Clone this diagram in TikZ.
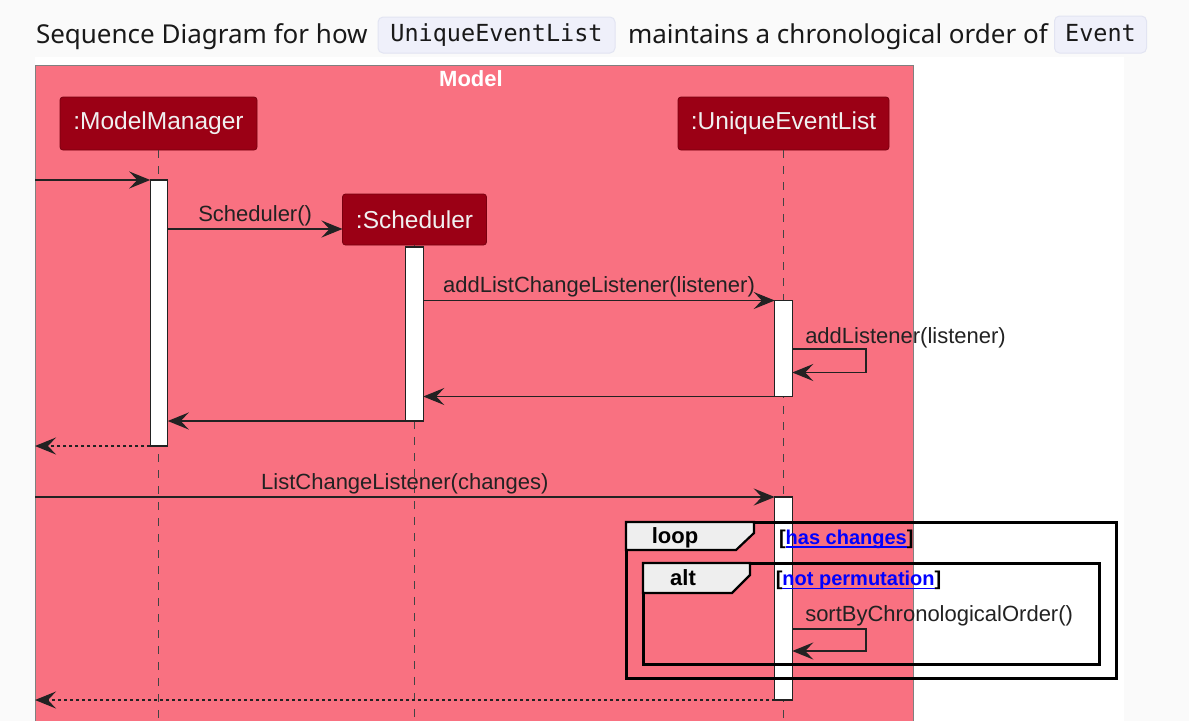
\documentclass[tikz,border=0pt]{standalone}
\usepackage{fontspec}
\setmainfont{Liberation Sans}
\newfontfamily\titlefont{Noto Sans}
\newfontfamily\codefont{DejaVu Sans Mono}
\usetikzlibrary{arrows.meta}
\definecolor{pinkbg}{RGB}{249,113,129}
\definecolor{partred}{RGB}{155,0,21}
\definecolor{partborder}{RGB}{120,0,15}
\definecolor{tabgray}{RGB}{238,238,238}
\definecolor{chipfill}{RGB}{239,240,250}
\definecolor{chipdraw}{RGB}{226,228,242}
\definecolor{pagebg}{RGB}{250,250,250}
\definecolor{ink}{RGB}{34,34,34}
\definecolor{linkblue}{RGB}{0,0,255}
\begin{document}
\begin{tikzpicture}[x=1pt,y=-1pt,
  every node/.style={inner sep=0pt, outer sep=0pt},
  participant/.style={draw=partborder, fill=partred, rounded corners=3pt, text=white!94!black,
    font=\fontsize{24.5}{26}\selectfont, line width=0.8pt},
  actbar/.style={draw=ink, fill=white, line width=1.2pt, minimum width=17.5pt},
  lifeline/.style={draw=ink!85, line width=1pt, dash pattern=on 8pt off 8pt},
  msg/.style={draw=ink, line width=1.5pt, -{Stealth[length=21pt,width=17pt,inset=8pt]}},
  ret/.style={msg, dash pattern=on 3pt off 3pt},
  lbl/.style={anchor=base, font=\fontsize{22}{24}\selectfont, text=ink, yshift=8pt},
  selflbl/.style={anchor=base west, font=\fontsize{22}{24}\selectfont, text=ink, xshift=13pt},
  frame/.style={draw=black, line width=3pt},
  tabshape/.style={draw=black, fill=tabgray, line width=2.2pt},
  tabtxt/.style={anchor=base, font=\bfseries\fontsize{22}{24}\selectfont, text=black},
  guard/.style={anchor=base west, font=\bfseries\fontsize{20}{22}\selectfont, text=black},
  guardlink/.style={guard, text=linkblue},
  titletxt/.style={anchor=base west, font=\titlefont\fontsize{26}{30}\selectfont, text=black!90},
  chip/.style={fill=chipfill, draw=chipdraw, line width=1pt, rounded corners=5pt,
    font=\codefont\fontsize{23.5}{26}\selectfont, text=black!90, text height=17.5pt, text depth=4.5pt}
]
\useasboundingbox (0,0) rectangle (1189,721);
\fill[pagebg] (0,0) rectangle (1189,721);
\fill[white] (35,57) rectangle (1124,721);

% title
\node[titletxt] (t1) at (36,43.5) {Sequence Diagram for how};
\node[chip, minimum width=237pt, minimum height=36pt] (c1) at (496.5,35) {UniqueEventList};
\node[titletxt] (t2) at (628,43.5) {maintains a chronological order of};
\node[chip, minimum width=92pt, minimum height=37pt] (c2) at (1100.5,34.5) {Event};

% model box
\fill[pinkbg] (35,65) rectangle (913,721);
\draw[gray, line width=1pt] (35,721) -- (35,65) -- (913,65) -- (913,721);
\node[font=\bfseries\fontsize{22}{24}\selectfont, text=white] (modeltitle) at (471,79) {Model};

% participants
\node[participant, minimum width=197pt, minimum height=53pt] (mm) at (158.5,123.5) {:ModelManager};
\node[participant, minimum width=211pt, minimum height=53pt] (uel) at (783.5,123.5) {:UniqueEventList};
\node[participant, minimum width=144pt, minimum height=51pt] (sch) at (414.5,219.5) {:Scheduler};

\coordinate (bottom) at (0,721);
\coordinate (leftedge) at (35,0);

% lifelines
\draw[lifeline] (mm.south) -- (mm.south |- bottom);
\draw[lifeline] (uel.south) -- (uel.south |- bottom);
\draw[lifeline] (sch.south) -- (sch.south |- bottom);

% activation bars
\node[actbar, minimum height=266pt] (mmbar) at (159,313) {};
\node[actbar, minimum height=174pt] (schbar) at (414.5,334) {};
\node[actbar, minimum height=96pt] (uelbar1) at (783.5,348.5) {};
\node[actbar, minimum height=203pt] (uelbar2) at (783.5,598.5) {};

% messages
\coordinate (ySch) at (0,229);
\draw[msg] (leftedge |- mmbar.north west) -- (mmbar.north west);
\draw[msg] (mmbar.east |- ySch) -- (sch.west |- ySch) node[lbl, midway] {Scheduler()};
\draw[msg] (schbar.east |- uelbar1.north) -- (uelbar1.north west) node[lbl, midway] {addListChangeListener(listener)};

\coordinate (sl1a) at (866,349);
\coordinate (sl1b) at (866,372.5);
\draw[msg] (uelbar1.east |- sl1a) node[selflbl, yshift=6pt] {addListener(listener)} -- (sl1a) -- (sl1b) -- (uelbar1.east |- sl1b);

\draw[msg] (uelbar1.south west) -- (schbar.east |- uelbar1.south);
\draw[msg] (schbar.south west) -- (mmbar.east |- schbar.south);
\draw[ret] (mmbar.south west) -- (leftedge |- mmbar.south);

\draw[msg] (leftedge |- uelbar2.north) -- (uelbar2.north west) node[lbl, midway] {ListChangeListener(changes)};

\coordinate (sl2a) at (866,629);
\coordinate (sl2b) at (866,651);
\draw[msg] (uelbar2.east |- sl2a) node[selflbl, yshift=8pt] {sortByChronologicalOrder()} -- (sl2a) -- (sl2b) -- (uelbar2.east |- sl2b);

\draw[ret] (uelbar2.south west) -- (leftedge |- uelbar2.south);

% loop frame
\node[frame, minimum width=490pt, minimum height=156pt] (loopframe) at (871,600) {};
\draw[tabshape] (loopframe.north west) -- ++(128,0) -- ++(0,11) -- ++(-18,17) -- ++(-110,0) -- cycle;
\node[tabtxt] (looptxt) at (675,543.5) {loop};
\node[guard] (g1a) at (779,544) {[};
\node[guardlink] (g1) at (g1a.base east) {has changes};
\node[guard] (g1b) at (g1.base east) {]};
\draw[linkblue, line width=1.3pt] ([yshift=-3pt]g1.base west) -- ([yshift=-3pt]g1.base east);

% alt frame
\node[frame, minimum width=456.5pt, minimum height=101pt] (altframe) at (871.25,613.5) {};
\draw[tabshape] (altframe.north west) -- ++(107,0) -- ++(0,12) -- ++(-18,18) -- ++(-89,0) -- cycle;
\node[tabtxt] (alttxt) at (683,585.7) {alt};
\node[guard] (g2a) at (775.8,585.5) {[};
\node[guardlink] (g2) at (g2a.base east) {not permutation};
\node[guard] (g2b) at (g2.base east) {]};
\draw[linkblue, line width=1.3pt] ([yshift=-3pt]g2.base west) -- ([yshift=-3pt]g2.base east);
\end{tikzpicture}
\end{document}
